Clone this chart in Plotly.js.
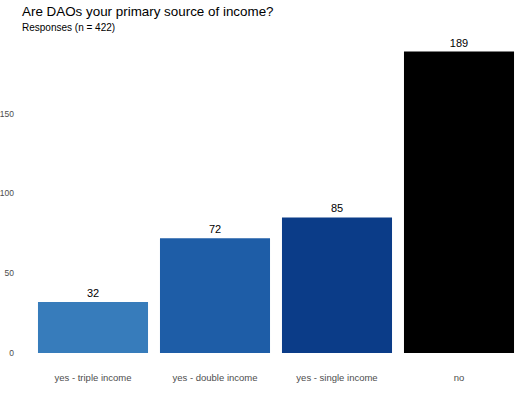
<!DOCTYPE html>
<html><head><meta charset="utf-8">
<script src="https://cdn.plot.ly/plotly-3.0.1.min.js"></script>
<style>html,body{margin:0;padding:0;background:#fff}#chart{width:520px;height:400px}</style>
</head><body><div id="chart"></div>
<script>
var categories = ["yes - triple income", "yes - double income", "yes - single income", "no"];
var counts = [32, 72, 85, 189];
var barColors = ["#377cbb", "#1e5da7", "#0b3c88", "#000000"];
var yTicks = [0, 50, 100, 150];

var trace = {
  type: "bar",
  x: categories,
  y: counts,
  marker: {color: barColors, line: {width: 0}},
  text: counts.map(String),
  textposition: "outside",
  cliponaxis: false,
  textfont: {family: "Liberation Sans, Arial, sans-serif", size: 11, color: "#000"},
  hoverinfo: "none"
};

var layout = {
  width: 520, height: 400,
  margin: {l: 32, r: 0, t: 34, b: 47},
  paper_bgcolor: "#fff", plot_bgcolor: "#fff",
  bargap: 0.098,
  showlegend: false,
  font: {family: "Liberation Sans, Arial, sans-serif"},
  xaxis: {
    showgrid: false, zeroline: false, showline: false, ticks: "",
    tickfont: {size: 9.5, color: "#4d4d4d"},
    ticklabelstandoff: 17,
    fixedrange: true
  },
  yaxis: {
    range: [0, 200], showgrid: false, zeroline: false, showline: false, ticks: "",
    tickvals: yTicks, ticktext: yTicks.map(String),
    tickfont: {size: 8.5, color: "#4d4d4d"},
    ticklabelstandoff: 17,
    fixedrange: true
  },
  annotations: [
    {text: "Are DAOs your primary source of income?", xref: "paper", yref: "paper",
     x: -12/488, y: 1, xanchor: "left", yanchor: "bottom", yshift: 13, showarrow: false,
     font: {size: 13.4, color: "#000"}},
    {text: "Responses (n = 422)", xref: "paper", yref: "paper",
     x: -12/488, y: 1, xanchor: "left", yanchor: "bottom", yshift: -1, showarrow: false,
     font: {size: 10, color: "#000"}}
  ]
};

Plotly.newPlot("chart", [trace], layout, {displayModeBar: false, staticPlot: true});
</script>
</body></html>
